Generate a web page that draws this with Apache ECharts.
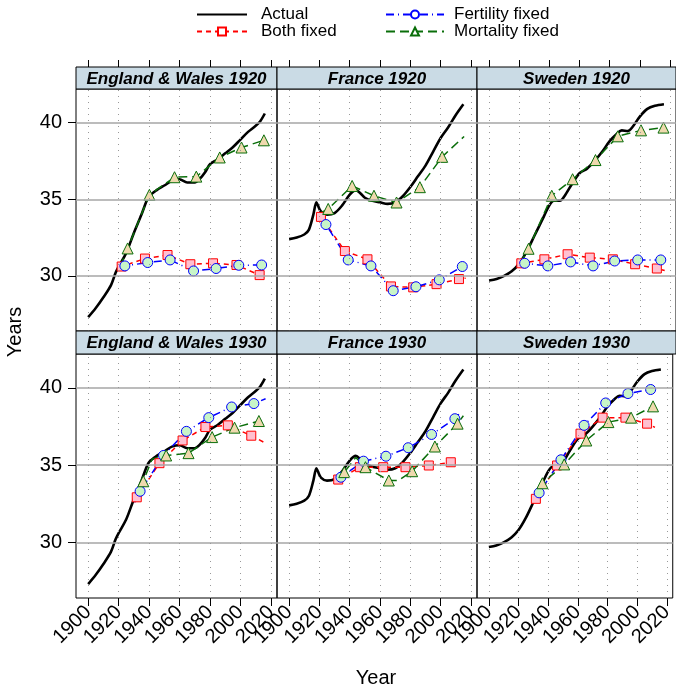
<!DOCTYPE html>
<html><head><meta charset="utf-8">
<script src="https://cdn.jsdelivr.net/npm/echarts@6/dist/echarts.min.js"></script>
<style>html,body{margin:0;padding:0;background:#fff}#c{width:676px;height:696px}</style>
</head><body><div id="c"></div>
<script>
const FONT = "'Liberation Sans', Arial, Helvetica, sans-serif";
const xTicks = [1900, 1920, 1940, 1960, 1980, 2000, 2020];
const yTicks = [30, 35, 40];
const panelTitles = ['England & Wales 1920', 'France 1920', 'Sweden 1920', 'England & Wales 1930', 'France 1930', 'Sweden 1930'];
const seriesNames = ['Actual', 'Both fixed', 'Fertility fixed', 'Mortality fixed'];

// Actual (same for both cohorts of a country)
const actualEW = [[1900,27.3],[1905,27.9],[1910,28.6],[1915,29.4],[1918,30.2],[1920,30.6],[1925,31.5],[1930,32.8],[1935,34.0],[1938,34.8],[1940,35.2],[1945,35.6],[1950,35.9],[1955,36.2],[1960,36.3],[1965,36.1],[1970,36.1],[1973,36.3],[1977,36.8],[1980,37.3],[1985,37.6],[1990,38.0],[1995,38.4],[2000,38.9],[2005,39.4],[2010,39.8],[2013,40.1],[2016,40.6]];
const actualFR = [[1900,32.4],[1905,32.5],[1910,32.7],[1913,33.0],[1916,34.0],[1918,34.8],[1919,34.6],[1921,34.2],[1925,34.0],[1930,34.1],[1935,34.6],[1940,35.3],[1944,35.6],[1947,35.4],[1950,35.1],[1955,34.9],[1960,34.8],[1965,34.7],[1970,34.8],[1975,35.2],[1980,35.8],[1985,36.5],[1990,37.2],[1995,38.1],[2000,39.0],[2005,39.7],[2010,40.5],[2015,41.2]];
const actualSE = [[1900,29.7],[1905,29.8],[1910,30.0],[1915,30.3],[1920,30.8],[1925,31.6],[1930,32.6],[1935,33.6],[1940,34.6],[1943,34.9],[1947,34.9],[1950,35.2],[1955,36.0],[1960,36.7],[1965,37.0],[1970,37.5],[1975,38.1],[1980,38.8],[1985,39.3],[1988,39.5],[1992,39.45],[1995,39.7],[2000,40.4],[2005,40.9],[2010,41.1],[2016,41.2]];

// Scenario series: first = line start, last = line end, the rest carry markers
const ew20Both = [[1920.5,30.55],[1922,30.61],[1937.3,31.13],[1952.1,31.36],[1967.1,30.76],[1982,30.82],[1997.4,30.71],[2012.6,30.05],[2016.5,29.95]];
const ew20Fert = [[1921,30.6],[1924.1,30.65],[1939.1,30.87],[1953.8,31.04],[1969.2,30.32],[1984,30.48],[1998.9,30.69],[2013.9,30.71],[2016.5,30.7]];
const ew20Mort = [[1921,30.6],[1925.9,31.79],[1940.2,35.29],[1956.7,36.44],[1971,36.48],[1986.4,37.73],[2000.7,38.38],[2015.4,38.85],[2016.5,38.9]];

const fr20Both = [[1920.5,34.1],[1921,33.85],[1936.8,31.62],[1951.7,31.08],[1967.2,29.31],[1981.9,29.25],[1997.3,29.46],[2012.1,29.79],[2016.5,29.85]];
const fr20Fert = [[1920.5,34.0],[1924.3,33.35],[1939,31.04],[1954,30.65],[1968.7,29.03],[1983.7,29.29],[1999.1,29.74],[2014.3,30.61],[2015.5,30.7]];
const fr20Mort = [[1920.5,34.1],[1925.8,34.37],[1941.6,35.87],[1956,35.23],[1970.9,34.79],[1986.3,35.79],[2001,37.77],[2015.5,39.1]];

const se20Both = [[1920.5,30.8],[1921.4,30.82],[1936.7,31.08],[1952.1,31.41],[1966.8,31.19],[1982.1,31.08],[1996.9,30.76],[2011.3,30.48],[2016.5,30.35]];
const se20Fert = [[1920.5,30.8],[1923.6,30.82],[1939,30.65],[1954.1,30.91],[1969,30.65],[1983.3,30.97],[1998.6,31.04],[2013.9,31.04],[2016.5,31.05]];
const se20Mort = [[1920.5,30.8],[1926.2,31.77],[1941.6,35.23],[1955.4,36.31],[1970.6,37.56],[1985.4,39.11],[2000.8,39.5],[2015.7,39.68],[2016.5,39.7]];

const ew30Both = [[1930.5,32.6],[1931.9,32.92],[1946.8,35.13],[1962,36.6],[1977,37.47],[1991.7,37.58],[2007.1,36.91],[2016,36.45]];
const ew30Fert = [[1930.5,32.6],[1934.1,33.31],[1949.5,35.63],[1964.5,37.19],[1979.2,38.08],[1994.2,38.77],[2008.8,38.99],[2016.5,39.3]];
const ew30Mort = [[1930.5,32.7],[1936.2,33.96],[1942,35.4],[1951.2,35.63],[1965.9,35.78],[1981.4,36.82],[1996.1,37.43],[2012.1,37.86],[2016.5,37.95]];

const fr30Both = [[1930.5,34.05],[1932.4,34.07],[1946.7,34.87],[1962.1,34.87],[1976.8,34.87],[1992.2,34.98],[2006.7,35.19],[2010,35.2]];
const fr30Fert = [[1930.5,34.05],[1934.2,34.22],[1949.1,35.26],[1963.9,35.58],[1978.6,36.13],[1994,36.99],[2009.4,38.01],[2012,38.3]];
const fr30Mort = [[1930.5,34.05],[1936.4,34.55],[1944,35.5],[1950.4,34.87],[1965.8,34.01],[1972,34.0],[1981.2,34.61],[1996.2,36.21],[2011.2,37.69],[2015,38.2]];

const se30Both = [[1930.5,32.6],[1931.7,32.82],[1946,34.98],[1961.8,37.04],[1976.7,38.08],[1992.1,38.08],[2006.7,37.69],[2012,37.45]];
const se30Fert = [[1930.5,32.6],[1933.9,33.21],[1948.6,35.35],[1964.2,37.58],[1978.8,39.03],[1993.8,39.64],[2009.1,39.9],[2010.5,39.9]];
const se30Mort = [[1930.5,32.6],[1936.1,33.83],[1950.8,35.05],[1965.7,36.6],[1980.6,37.79],[1995.9,38.08],[2010.7,38.81],[2011.5,38.85]];

// intermediate (unmarked) points inside scenario arrays
const unmarked = { ew30Mort: [1942], fr30Mort: [1944, 1972] };

const panels = [
  { actual: actualEW, both: ew20Both, fert: ew20Fert, mort: ew20Mort, key: 'ew20' },
  { actual: actualFR, both: fr20Both, fert: fr20Fert, mort: fr20Mort, key: 'fr20' },
  { actual: actualSE, both: se20Both, fert: se20Fert, mort: se20Mort, key: 'se20' },
  { actual: actualEW, both: ew30Both, fert: ew30Fert, mort: ew30Mort, key: 'ew30' },
  { actual: actualFR, both: fr30Both, fert: fr30Fert, mort: fr30Mort, key: 'fr30' },
  { actual: actualSE, both: se30Both, fert: se30Fert, mort: se30Mort, key: 'se30' }
];

// layout
const colLeft = [76, 277, 477], colW = [201, 200, 199];
const rowTop = [89, 354], rowH = [242, 244], stripH = [22, 23];
const X_MIN = 1892, X_MAX = 2024, Y_MIN = 26.4, Y_MAX = 42.2;

const styles = {
  both: { line: { color: '#ff0000', width: 1.5, type: [5, 4] }, symbol: 'rect', size: 9, fill: '#ffc0d0', border: '#ff0000' },
  fert: { line: { color: '#0000ff', width: 1.5, type: [8, 4, 1, 4] }, symbol: 'circle', size: 10, fill: '#c8f5c8', border: '#0000ff' },
  mort: { line: { color: '#0a6e0a', width: 1.5, type: [9, 5] }, symbol: 'triangle', size: 11, fill: '#efd9ae', border: '#0a6e0a' }
};

const grids = [], xAxes = [], topAxes = [], yAxes = [], series = [], graphics = [];
panels.forEach((p, i) => {
  const r = Math.floor(i / 3), c = i % 3;
  grids.push({ left: colLeft[c], top: rowTop[r], width: colW[c], height: rowH[r], show: true, borderColor: '#000', borderWidth: 1, backgroundColor: 'transparent' });
  xAxes.push({
    gridIndex: i, type: 'value', min: X_MIN, max: X_MAX, position: 'bottom',
    axisLine: { show: false }, splitLine: { show: false },
    axisTick: { show: r === 1, customValues: xTicks, length: 8, lineStyle: { color: '#000', width: 1 } },
    axisLabel: { show: r === 1, customValues: xTicks, formatter: v => String(v), rotate: 45, margin: 11, fontSize: 20, fontFamily: FONT, color: '#000' }
  });
  yAxes.push({
    gridIndex: i, type: 'value', min: Y_MIN, max: Y_MAX,
    axisLine: { show: false }, splitLine: { show: false },
    axisTick: { show: c === 0, customValues: yTicks, length: 8, lineStyle: { color: '#000', width: 1 } },
    axisLabel: { show: c === 0, customValues: yTicks, margin: 14, fontSize: 20, fontFamily: FONT, color: '#000' }
  });
  // grid reference lines
  series.push({
    type: 'line', xAxisIndex: i, yAxisIndex: i, data: [], silent: true, z: 1, symbol: 'none',
    markLine: {
      silent: true, symbol: 'none', label: { show: false }, animation: false,
      data: yTicks.map(v => ({ yAxis: v, lineStyle: { color: '#a6a6a6', width: 1.5, type: 'solid' } }))
        .concat(xTicks.map(v => ({ xAxis: v, lineStyle: { color: '#999999', width: 1, type: [1, 5] } })))
    }
  });
  series.push({
    name: 'Actual', type: 'line', xAxisIndex: i, yAxisIndex: i, data: p.actual, symbol: 'none',
    smooth: 0.3, lineStyle: { color: '#000', width: 2.6 }, itemStyle: { color: '#000' }, z: 3, animation: false
  });
  const skip = unmarked[p.key + 'Mort'] || [];
  [['both', 'Both fixed'], ['fert', 'Fertility fixed'], ['mort', 'Mortality fixed']].forEach(([k, name]) => {
    const s = styles[k];
    const arr = p[k];
    const extra = k === 'mort' ? skip : [];
    series.push({
      name, type: 'line', xAxisIndex: i, yAxisIndex: i, animation: false, z: 4,
      symbol: s.symbol, symbolSize: s.size, showSymbol: true,
      lineStyle: s.line, itemStyle: { color: s.fill, borderColor: s.border, borderWidth: 1 },
      data: arr.map((pt, j) => (j === 0 || j === arr.length - 1 || extra.includes(pt[0])) ? { value: pt, symbol: 'none' } : { value: pt })
    });
  });
  // strip
  const sTop = rowTop[r] - stripH[r];
  graphics.push({ type: 'rect', shape: { x: colLeft[c], y: sTop, width: colW[c], height: stripH[r] }, style: { fill: '#cadbe5', stroke: '#000', lineWidth: 1 }, z: 10 });
  graphics.push({ type: 'text', x: colLeft[c] + colW[c] / 2, y: sTop + stripH[r] / 2 + 1, style: { text: panelTitles[i], fontSize: 17, fontWeight: 'bold', fontStyle: 'italic', fontFamily: FONT, fill: '#000', align: 'center', verticalAlign: 'middle' }, z: 11 });
  if (r === 0) {
    topAxes.push({
      gridIndex: i, type: 'value', min: X_MIN, max: X_MAX, position: 'top', offset: stripH[r],
      axisLine: { show: false }, splitLine: { show: false },
      axisTick: { show: true, customValues: xTicks, length: 7, lineStyle: { color: '#000', width: 1 } },
      axisLabel: { show: false }
    });
  }
});

graphics.push({ type: 'text', x: 15, y: 332, rotation: Math.PI / 2, style: { text: 'Years', fontSize: 20, fontFamily: FONT, fill: '#000', align: 'center', verticalAlign: 'middle' } });
graphics.push({ type: 'text', x: 376, y: 678, style: { text: 'Year', fontSize: 20, fontFamily: FONT, fill: '#000', align: 'center', verticalAlign: 'middle' } });

const legendText = { fontSize: 17, fontFamily: FONT, color: '#000', lineHeight: 17 };
const openMarker = { color: '#ffffff' };
const option = {
  backgroundColor: '#fff',
  animation: false,
  legend: [
    { left: 191, top: 1, orient: 'vertical', itemWidth: 50, itemHeight: 10, itemGap: 0,
      data: [{ name: seriesNames[0], itemStyle: { opacity: 0 } }, { name: seriesNames[1], itemStyle: openMarker }],
      textStyle: Object.assign({ padding: [0, 0, 0, 9] }, legendText) },
    { left: 380, top: 1, orient: 'vertical', itemWidth: 58, itemHeight: 10, itemGap: 0,
      data: [{ name: seriesNames[2], itemStyle: openMarker }, { name: seriesNames[3], itemStyle: openMarker }],
      textStyle: Object.assign({ padding: [0, 0, 0, 5] }, legendText) }
  ],
  grid: grids, xAxis: xAxes.concat(topAxes), yAxis: yAxes, series, graphic: graphics
};
const chart = echarts.init(document.getElementById('c'), null, { renderer: 'canvas' });
chart.setOption(option);
</script></body></html>
